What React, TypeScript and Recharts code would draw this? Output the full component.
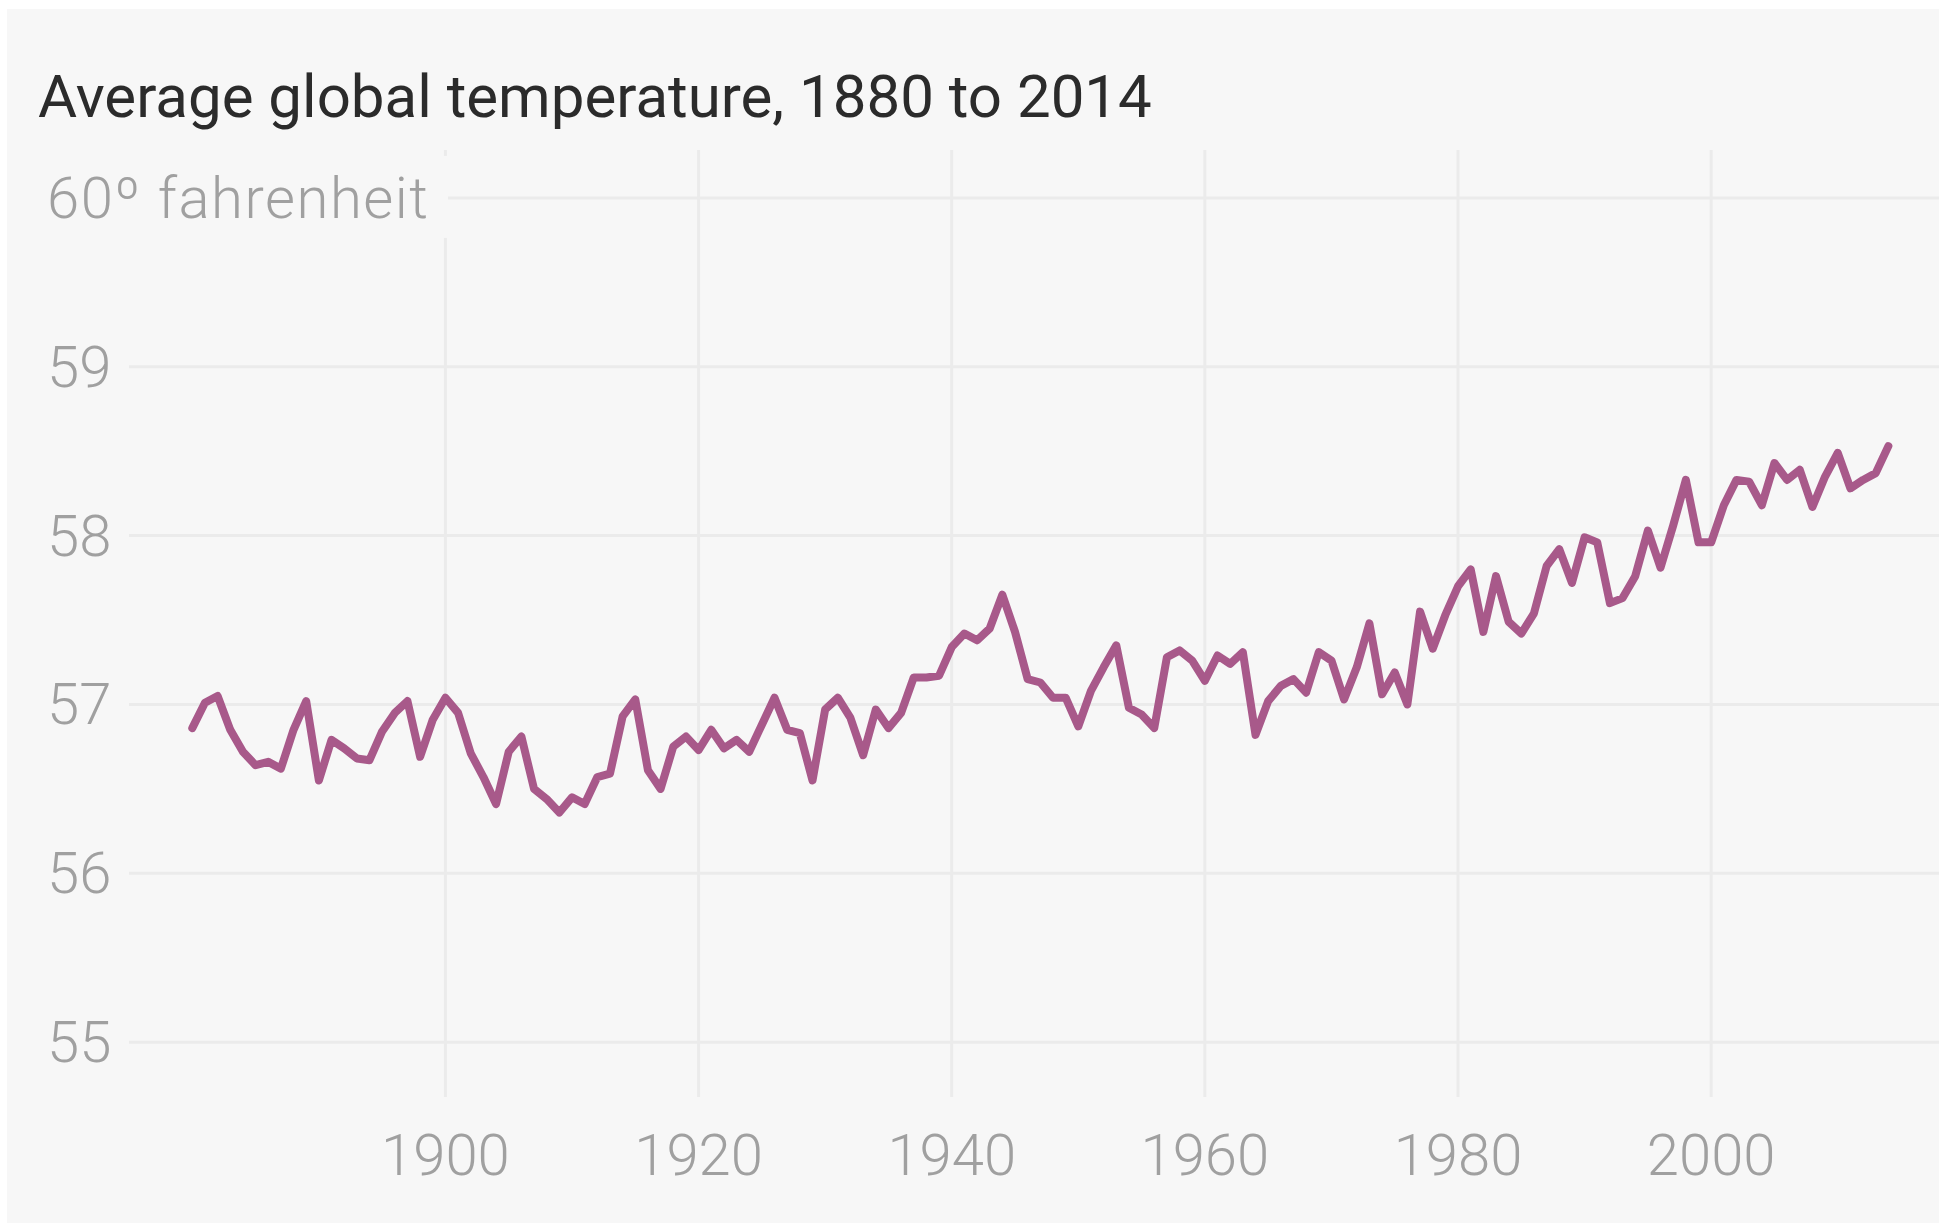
import { LineChart, Line, XAxis, YAxis, CartesianGrid } from 'recharts'

const YEARS = [
  1880, 1881, 1882, 1883, 1884, 1885, 1886, 1887, 1888, 1889,
  1890, 1891, 1892, 1893, 1894, 1895, 1896, 1897, 1898, 1899,
  1900, 1901, 1902, 1903, 1904, 1905, 1906, 1907, 1908, 1909,
  1910, 1911, 1912, 1913, 1914, 1915, 1916, 1917, 1918, 1919,
  1920, 1921, 1922, 1923, 1924, 1925, 1926, 1927, 1928, 1929,
  1930, 1931, 1932, 1933, 1934, 1935, 1936, 1937, 1938, 1939,
  1940, 1941, 1942, 1943, 1944, 1945, 1946, 1947, 1948, 1949,
  1950, 1951, 1952, 1953, 1954, 1955, 1956, 1957, 1958, 1959,
  1960, 1961, 1962, 1963, 1964, 1965, 1966, 1967, 1968, 1969,
  1970, 1971, 1972, 1973, 1974, 1975, 1976, 1977, 1978, 1979,
  1980, 1981, 1982, 1983, 1984, 1985, 1986, 1987, 1988, 1989,
  1990, 1991, 1992, 1993, 1994, 1995, 1996, 1997, 1998, 1999,
  2000, 2001, 2002, 2003, 2004, 2005, 2006, 2007, 2008, 2009,
  2010, 2011, 2012, 2013, 2014,
]

// degrees fahrenheit
const TEMPS = [
  56.86, 57.01, 57.05, 56.85, 56.72, 56.64, 56.66, 56.62, 56.85, 57.02,
  56.55, 56.79, 56.74, 56.68, 56.67, 56.84, 56.95, 57.02, 56.69, 56.91,
  57.04, 56.95, 56.71, 56.57, 56.41, 56.72, 56.81, 56.50, 56.44, 56.36,
  56.45, 56.41, 56.57, 56.59, 56.93, 57.03, 56.61, 56.50, 56.75, 56.81,
  56.73, 56.85, 56.74, 56.79, 56.72, 56.88, 57.04, 56.85, 56.83, 56.55,
  56.97, 57.04, 56.92, 56.70, 56.97, 56.86, 56.95, 57.16, 57.16, 57.17,
  57.34, 57.42, 57.38, 57.45, 57.65, 57.43, 57.15, 57.13, 57.04, 57.04,
  56.87, 57.08, 57.22, 57.35, 56.98, 56.94, 56.86, 57.28, 57.32, 57.26,
  57.14, 57.29, 57.24, 57.31, 56.82, 57.02, 57.11, 57.15, 57.07, 57.31,
  57.26, 57.03, 57.22, 57.48, 57.06, 57.19, 57.00, 57.55, 57.33, 57.53,
  57.70, 57.80, 57.43, 57.76, 57.49, 57.42, 57.54, 57.82, 57.92, 57.72,
  57.99, 57.96, 57.60, 57.63, 57.76, 58.03, 57.81, 58.06, 58.33, 57.96,
  57.96, 58.18, 58.33, 58.32, 58.18, 58.43, 58.33, 58.39, 58.17, 58.35,
  58.49, 58.28, 58.33, 58.37, 58.53,
]

const X_TICKS = [1900, 1920, 1940, 1960, 1980, 2000]
const Y_TICKS = [55, 56, 57, 58, 59, 60]

const data = YEARS.map((year, i) => ({ year, temp: TEMPS[i] }))

const FONT = 'Roboto, "Noto Sans", sans-serif'
const LABEL_COLOR = '#a0a0a0'
const BG = '#f7f7f7'

// eslint-disable-next-line @typescript-eslint/no-explicit-any
function YTick(props: any) {
  const { y, payload } = props
  const top = payload.value === 60
  return (
    <g>
      {top && <rect x={40} y={y - 42} width={408} height={82} fill={BG} />}
      <text
        x={47}
        y={y + 20}
        textAnchor="start"
        fill={LABEL_COLOR}
        fontFamily={FONT}
        fontWeight={300}
        fontSize={58}
        {...(top ? { textLength: 381, lengthAdjust: 'spacing' } : {})}
      >
        {top ? '60º fahrenheit' : payload.value}
      </text>
    </g>
  )
}

// eslint-disable-next-line @typescript-eslint/no-explicit-any
function XTick(props: any) {
  const { x, payload } = props
  return (
    <text
      x={x}
      y={1175}
      textAnchor="middle"
      fill={LABEL_COLOR}
      fontFamily={FONT}
      fontWeight={300}
      fontSize={58}
    >
      {payload.value}
    </text>
  )
}

export default function App() {
  return (
    <div style={{ position: 'absolute', left: 0, top: 0, width: 1939, height: 1223, overflow: 'hidden', background: '#fff' }}>
      <div style={{ position: 'absolute', left: 7, top: 9, width: 1932, height: 1214, background: BG }} />
      <div
        style={{
          position: 'absolute',
          left: 38,
          top: 67,
          fontFamily: FONT,
          fontSize: 60,
          lineHeight: '60px',
          color: '#2b2b2b',
          whiteSpace: 'nowrap',
        }}
      >
        Average global temperature, 1880 to 2014
      </div>
      <div style={{ position: 'absolute', left: 0, top: 0 }}>
        <LineChart width={1939} height={1223} data={data} margin={{ top: 150, right: 0, bottom: 46, left: 0 }}>
          <CartesianGrid stroke="#ebebeb" strokeWidth={3} syncWithTicks />
          <XAxis
            dataKey="year"
            type="number"
            domain={[1875, 2018]}
            allowDataOverflow
            ticks={X_TICKS}
            axisLine={false}
            tickLine={false}
            height={80}
            tick={<XTick />}
          />
          <YAxis
            type="number"
            domain={[54.675, 60.284]}
            allowDataOverflow
            ticks={Y_TICKS}
            axisLine={false}
            tickLine={false}
            width={129}
            tick={<YTick />}
          />
          <Line
            dataKey="temp"
            type="linear"
            stroke="#a8598a"
            strokeWidth={8}
            strokeLinejoin="round"
            strokeLinecap="round"
            dot={false}
            isAnimationActive={false}
          />
        </LineChart>
      </div>
    </div>
  )
}
